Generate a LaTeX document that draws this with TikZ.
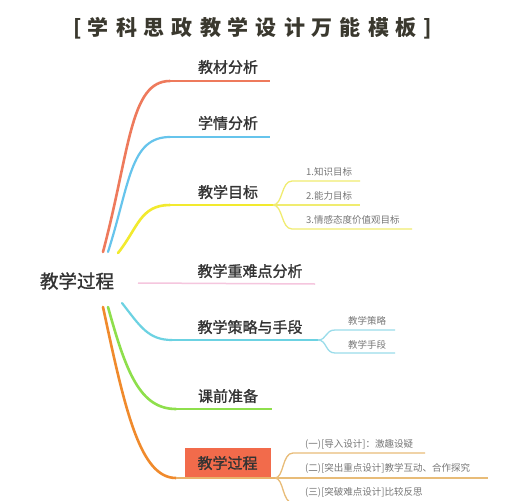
\documentclass[tikz,border=0pt]{standalone}
\usepackage{fontspec}
\setmainfont{Noto Sans CJK SC}
\newfontfamily\medf{Noto Sans CJK SC}[FakeBold=1.3]
\definecolor{txt}{HTML}{333333}
\definecolor{stxt}{HTML}{777777}
\definecolor{ttl}{HTML}{3A382E}
\definecolor{cred}{HTML}{EE7A5C}
\definecolor{cblue}{HTML}{66C4EC}
\definecolor{cyel}{HTML}{F2EA2E}
\definecolor{cpink}{HTML}{F5C6DE}
\definecolor{ccyan}{HTML}{6CD2E2}
\definecolor{cgreen}{HTML}{8EDF4C}
\definecolor{corange}{HTML}{F08A2C}
\definecolor{cbox}{HTML}{F26B4B}
\definecolor{ysub}{HTML}{F0EC70}
\definecolor{csub}{HTML}{9ADCEA}
\definecolor{osub}{HTML}{E8BC78}
\begin{document}
\begin{tikzpicture}[x=1pt,y=-1pt,
  br/.style={line width=2.6pt, line cap=round},
  ul/.style={line width=1.8pt},
  subl/.style={line width=1.3pt},
  btext/.style={font=\medf\fontsize{15}{15}\selectfont, text=txt, inner sep=0pt},
  stext/.style={font=\fontsize{9.5}{10}\selectfont, text=stxt, inner sep=0pt, anchor=west}]
\useasboundingbox (0,0) rectangle (505,500);
\fill[white] (0,0) rectangle (505,500);
% title
\node[font=\bfseries\fontsize{21}{21}\selectfont, text=ttl, inner sep=0pt] (title) at (252.5,28)
  {[\hspace{6pt}学\hspace{7pt}科\hspace{7pt}思\hspace{7pt}政\hspace{7pt}教\hspace{7pt}学\hspace{7pt}设\hspace{7pt}计\hspace{7pt}万\hspace{7pt}能\hspace{7pt}模\hspace{7pt}板\hspace{6pt}]};
% root
\node[font=\medf\fontsize{18.5}{18.5}\selectfont, text=txt, inner sep=0pt] (root) at (77,281) {教学过程};
\coordinate (ru1) at (103,252);
\coordinate (ru2) at (108,252);
\coordinate (ru3) at (118,253);
\coordinate (rp) at (138,283);
\coordinate (rl1) at (122,303);
\coordinate (rl2) at (108,307);
\coordinate (rl3) at (103,307);
% branch texts
\node[btext] (b1) at (228,67) {教材分析};
\node[btext] (b2) at (228,123) {学情分析};
\node[btext] (b3) at (228,192) {教学目标};
\node[btext] (b4) at (250,271) {教学重难点分析};
\node[btext] (b5) at (250,327) {教学策略与手段};
\node[btext] (b6) at (228,396) {课前准备};
\node[btext, fill=cbox, minimum width=86pt, minimum height=30pt] (b7) at (227.5,463) {教学过程};
% branch line coordinates
\coordinate (b1a) at (170,81);  \coordinate (b1b) at (270,81);
\coordinate (b2a) at (170,137); \coordinate (b2b) at (270,137);
\coordinate (b3a) at (170,205); \coordinate (g0) at (273,205);
\coordinate (b4b) at (315,284);
\coordinate (b5a) at (172,340); \coordinate (s0) at (318,340);
\coordinate (b6a) at (176,409); \coordinate (b6b) at (272,409);
\coordinate (b7a) at (176,478); \coordinate (p0) at (275,478);
% main branches
\draw[br, cred] (ru1) .. controls (130,150) and (130,81) .. (b1a);
\draw[ul, cred] (b1a) -- (b1b);
\draw[br, cblue, line width=2.2pt] (ru2) .. controls (130,183) and (130,137) .. (b2a);
\draw[ul, cblue] (b2a) -- (b2b);
\draw[br, cyel] (ru3) .. controls (138,228) and (140,205) .. (b3a);
\draw[ul, cyel] (b3a) -- (g0);
\draw[ul, cpink, line width=1.5pt] (rp) -- (b4b);
\draw[br, ccyan, line width=2.2pt] (rl1) .. controls (140,326) and (148,340) .. (b5a);
\draw[ul, ccyan] (b5a) -- (s0);
\draw[br, cgreen] (rl2) .. controls (126,372) and (140,409) .. (b6a);
\draw[ul, cgreen] (b6a) -- (b6b);
\draw[br, corange] (rl3) .. controls (125,410) and (140,478) .. (b7a);
\draw[ul, osub!80!corange] (b7a) -- (p0);
% goal sub-branches
\coordinate (g1a) at (292,181); \coordinate (g1b) at (360,181);
\coordinate (g2b) at (360,205);
\coordinate (g3a) at (292,229); \coordinate (g3b) at (412,229);
\draw[subl, ysub] (g0) .. controls (283,205) and (281,181) .. (g1a) -- (g1b);
\draw[subl, ysub] (g0) -- (g2b);
\draw[subl, ysub] (g0) .. controls (283,205) and (281,229) .. (g3a) -- (g3b);
\node[stext] (g1) at (306,172) {1.知识目标};
\node[stext] (g2) at (306,196) {2.能力目标};
\node[stext] (g3) at (306,220) {3.情感态度价值观目标};
% strategy sub-branches
\coordinate (s1a) at (335,330); \coordinate (s1b) at (395,330);
\coordinate (s2a) at (335,353); \coordinate (s2b) at (395,353);
\draw[subl, csub] (s0) .. controls (327,340) and (325,330) .. (s1a) -- (s1b);
\draw[subl, csub] (s0) .. controls (327,340) and (325,353) .. (s2a) -- (s2b);
\node[stext] (s1) at (348,321) {教学策略};
\node[stext] (s2) at (348,345) {教学手段};
% process sub-branches
\coordinate (p1a) at (293,453); \coordinate (p1b) at (425,453);
\coordinate (p2b) at (488,478);
\coordinate (p3a) at (293,503); \coordinate (p3b) at (440,503);
\draw[subl, osub] (p0) .. controls (284,478) and (282,453) .. (p1a) -- (p1b);
\draw[subl, osub] (p0) -- (p2b);
\draw[subl, osub] (p0) .. controls (284,478) and (282,503) .. (p3a) -- (p3b);
\node[stext] (p1) at (305,444) {(一)[导入设计]：激趣设疑};
\node[stext] (p2) at (305,468) {(二)[突出重点设计]教学互动、合作探究};
\node[stext] (p3) at (305,492) {(三)[突破难点设计]比较反思};
\end{tikzpicture}
\end{document}
